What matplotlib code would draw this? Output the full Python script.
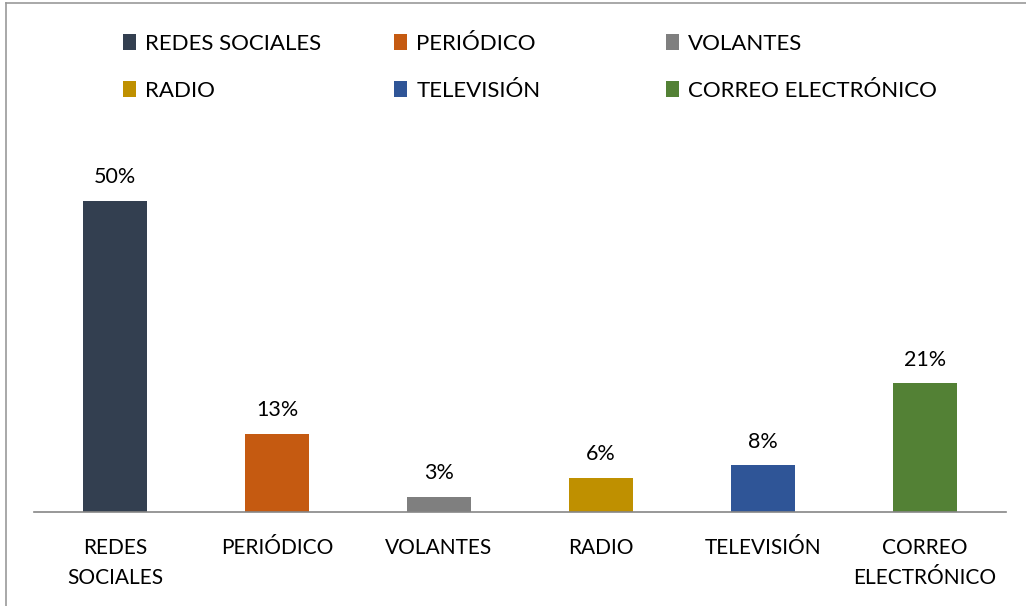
import matplotlib.pyplot as plt
from matplotlib.lines import Line2D

categorias = ['REDES SOCIALES', 'PERIÓDICO', 'VOLANTES', 'RADIO', 'TELEVISIÓN', 'CORREO ELECTRÓNICO']
etiquetas_eje = ['REDES\nSOCIALES', 'PERIÓDICO', 'VOLANTES', 'RADIO', 'TELEVISIÓN', 'CORREO\nELECTRÓNICO']
porcentajes = [50, 13, 3, 6, 8, 21]
etiquetas_valor = ['50%', '13%', '3%', '6%', '8%', '21%']
colores = ['#333F50', '#C55A11', '#7F7F7F', '#BF9000', '#2F5597', '#538135']

plt.rcParams['font.family'] = ['Lato', 'DejaVu Sans']

W, H = 1026, 606
fig = plt.figure(figsize=(W / 100, H / 100), dpi=100)

# area del grafico (en pixeles de la figura)
x0, x1 = 34, 1006
base, techo = 512, 169
ax = fig.add_axes([x0 / W, (H - base) / H, (x1 - x0) / W, (base - techo) / H])

pos = range(len(categorias))
barras = ax.bar(pos, porcentajes, width=0.39, color=colores)
ax.bar_label(barras, labels=etiquetas_valor, padding=10, fontsize=15.5, color='#000000')

ax.set_xlim(-0.5, len(categorias) - 0.5)
ax.set_ylim(0.62, 55)
ax.set_xticks(list(pos))
ax.set_xticklabels(etiquetas_eje, fontsize=15, color='#000000', linespacing=1.6)
ax.tick_params(axis='x', length=0, pad=19)
ax.set_yticks([])
for lado in ['top', 'right', 'left']:
    ax.spines[lado].set_visible(False)
ax.spines['bottom'].set_color('#868686')
ax.spines['bottom'].set_linewidth(1.2)

# leyenda en tres columnas, dos filas
columnas_x = [123, 394, 666]
for j, cx in enumerate(columnas_x):
    leg = fig.legend([barras[j], barras[j + 3]], [categorias[j], categorias[j + 3]],
                     loc='upper left', bbox_to_anchor=(cx / W, 1 - 34 / H),
                     frameon=False, fontsize=16, handlelength=0.6, handleheight=0.7,
                     handletextpad=0.4, labelspacing=1.2, borderpad=0, borderaxespad=0)
    for t in leg.get_texts():
        t.set_color('#000000')

# borde del grafico
fig.add_artist(Line2D([6 / W, 6 / W], [0, 1 - 3 / H], color='#999999', lw=1.2))
fig.add_artist(Line2D([6 / W, 1], [1 - 3 / H, 1 - 3 / H], color='#999999', lw=1.2))

fig.savefig('out.png', dpi=100)
